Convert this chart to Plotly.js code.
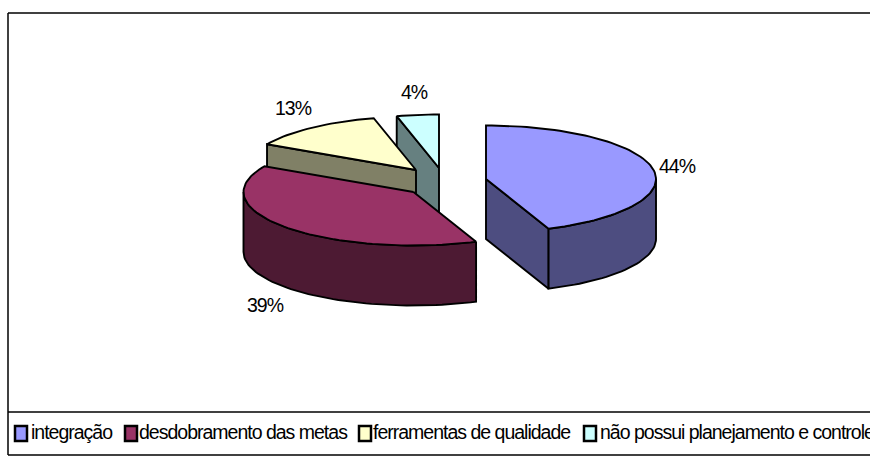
<!DOCTYPE html>
<html>
<head>
<meta charset="utf-8">
<script src="https://cdn.plot.ly/plotly-3.0.1.min.js"></script>
<style>
html,body{margin:0;padding:0;background:#fff;overflow:hidden}
#chart{width:870px;height:456px}
.annotation-text{letter-spacing:-1px}
</style>
</head>
<body>
<div id="chart"></div>
<script>
const categories = ["integração", "desdobramento das metas", "ferramentas de qualidade", "não possui planejamento e controle"];
const values = [44, 39, 13, 4];
const topColors = ["#9999FF", "#993366", "#FFFFCC", "#CCFFFF"];
const sideColors = ["#4D4D80", "#4D1A33", "#808066", "#668080"];

// Pie geometry (in the pixel-sized plotting space)
const centers = [[486, 179], [413.5, 192], [416, 170], [439, 168]];
const rx = 170, ry = 53.5, depth = 60;
const labelPos = [[677, 166], [265, 305], [293, 108], [414, 92]];
const swatchX = [14, 124, 358, 583];
const legendX = [31, 139, 373, 600];

const total = values.reduce((a, b) => a + b, 0);
let acc = 0;
const slices = values.map((v, i) => {
  const s = acc / total * 360; acc += v;
  return {i, start: s, end: acc / total * 360, c: centers[i]};
});
const pt = (c, a, dy = 0) => {
  const r = a * Math.PI / 180;
  return [c[0] + rx * Math.sin(r), c[1] - ry * Math.cos(r) + dy];
};
const arc = (c, a0, a1, dy = 0) => {
  const n = Math.max(2, Math.ceil(Math.abs(a1 - a0) / 2)), out = [];
  for (let k = 0; k <= n; k++) out.push(pt(c, a0 + (a1 - a0) * k / n, dy));
  return out;
};
const poly = (pts, fill) => ({
  type: "scatter", mode: "lines", hoverinfo: "skip", showlegend: false,
  x: pts.map(p => p[0]), y: pts.map(p => p[1]),
  fill: "toself", fillcolor: fill,
  line: {color: "#000", width: 1.9, shape: "linear"}
});

const traces = [];
[3, 2, 1, 0].forEach(i => {
  const {start, end, c} = slices[i];
  // cut face
  const cut = start > 180 ? start : (end < 180 ? end : null);
  if (cut !== null) {
    const p = pt(c, cut);
    traces.push(poly([c, p, [p[0], p[1] + depth], [c[0], c[1] + depth], c], sideColors[i]));
  }
  // outer wall (front half only)
  const a0 = Math.max(start, 90), a1 = Math.min(end, 270);
  if (a1 > a0) {
    const up = arc(c, a0, a1), low = arc(c, a1, a0, depth);
    traces.push(poly(up.concat(low, [up[0]]), sideColors[i]));
  }
  // top face
  traces.push(poly([c].concat(arc(c, start, end), [c]), topColors[i]));
});

const frame = [[8, 13, 900, 13], [8, 13, 8, 455], [8, 412, 900, 412], [8, 455, 900, 455]];
const shapes = frame.map(f => ({type: "line", x0: f[0], y0: f[1], x1: f[2], y1: f[3], line: {color: "#000", width: 1.5}}));
swatchX.forEach((x, i) => shapes.push({type: "rect", x0: x + 1, x1: x + 13, y0: 426, y1: 441, fillcolor: topColors[i], line: {color: "#000", width: 2.5}}));

const annFont = {family: "Liberation Sans, Arial, sans-serif", size: 19.5, color: "#000"};
const annotations = values.map((v, i) => ({
  x: labelPos[i][0], y: labelPos[i][1], text: v + "%", showarrow: false, font: annFont, xanchor: "center", yanchor: "middle"
})).concat(categories.map((t, i) => ({
  x: legendX[i], y: 432, text: t, showarrow: false, font: annFont, xanchor: "left", yanchor: "middle", xshift: -2
})));

Plotly.newPlot("chart", traces, {
  width: 870, height: 456,
  margin: {l: 0, r: 0, t: 0, b: 0},
  paper_bgcolor: "#fff", plot_bgcolor: "#fff",
  showlegend: false,
  xaxis: {range: [0, 870], visible: false, fixedrange: true},
  yaxis: {range: [456, 0], visible: false, fixedrange: true},
  shapes, annotations
}, {displayModeBar: false, staticPlot: true});
</script>
</body>
</html>
